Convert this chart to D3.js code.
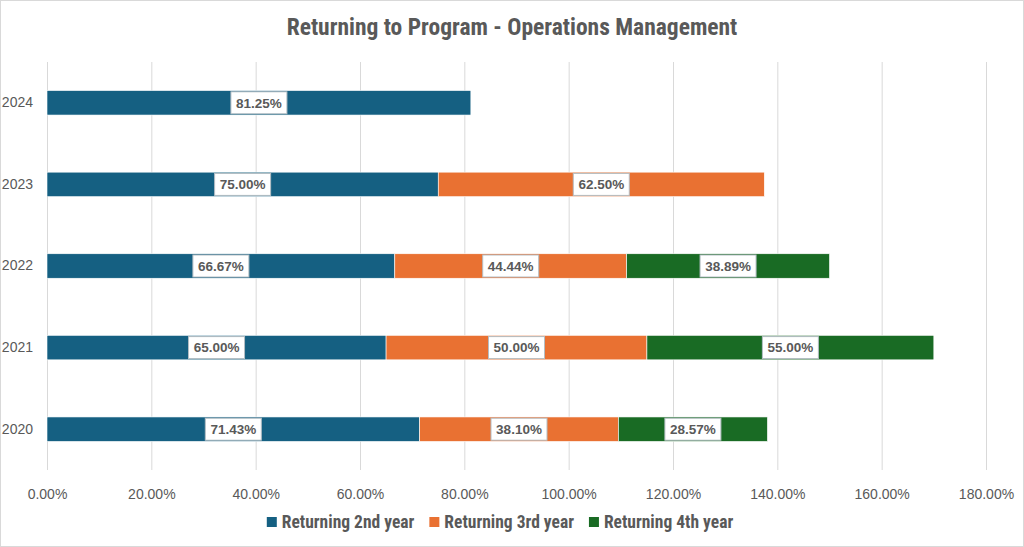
<!DOCTYPE html>
<html><head><meta charset="utf-8">
<script src="https://cdn.jsdelivr.net/npm/d3@7"></script>
<style>body{margin:0;background:#fff}svg{display:block}</style>
</head><body>
<script>
const years = ["2024","2023","2022","2021","2020"];
const seriesNames = ["Returning 2nd year","Returning 3rd year","Returning 4th year"];
const second = [81.25, 75.00, 66.67, 65.00, 71.43];
const third  = [null, 62.50, 44.44, 50.00, 38.10];
const fourth = [null, null, 38.89, 55.00, 28.57];
const xTicks = [0,20,40,60,80,100,120,140,160,180];
const colors = ["#156082","#E97132","#196B24"];

const W=1024,H=547;
const svg=d3.select("body").append("svg").attr("width",W).attr("height",H);
svg.append("rect").attr("x",0.5).attr("y",0.5).attr("width",W-1).attr("height",H-1)
  .attr("fill","#fff").attr("stroke","#d9d9d9");
const narrow='"Liberation Sans Narrow","Roboto Condensed","Liberation Sans",sans-serif';
svg.append("text").attr("x",512).attr("y",35).attr("text-anchor","middle")
  .attr("font-family",narrow).attr("font-weight","bold").attr("font-size",23.5)
  .attr("fill","#595959").text("Returning to Program - Operations Management");

const x=d3.scaleLinear().domain([0,180]).range([47,986]);
const y=d3.scaleBand().domain(years).range([62,470]).paddingInner(0.7).paddingOuter(0.35);

// gridlines
svg.append("g").selectAll("line").data(xTicks).join("line")
  .attr("x1",d=>x(d)+0.5).attr("x2",d=>x(d)+0.5).attr("y1",62).attr("y2",470)
  .attr("stroke","#d9d9d9").attr("stroke-width",1);

const xAxis=svg.append("g").attr("transform","translate(0,470)")
  .call(d3.axisBottom(x).tickValues(xTicks).tickSize(0).tickPadding(19).tickFormat(d=>d.toFixed(2)+"%"));
xAxis.select(".domain").remove();
xAxis.selectAll("text").attr("font-family",'"Liberation Sans",Arial,sans-serif').attr("font-size",14).attr("fill","#595959");

const yAxis=svg.append("g").attr("transform","translate(33,0)")
  .call(d3.axisLeft(y).tickSize(0).tickPadding(0));
yAxis.select(".domain").remove();
yAxis.selectAll("text").attr("font-family",'"Liberation Sans",Arial,sans-serif').attr("font-size",14).attr("fill","#595959");

const seriesVals=[second,third,fourth];
const rows=years.map((yr,i)=>{let acc=0;return seriesVals.map((s,k)=>{const v=s[i];const seg={yr,k,v,x0:acc,x1:acc+(v||0)};acc+=v||0;return seg;}).filter(d=>d.v!=null);});
const segs=rows.flat();

svg.append("g").selectAll("rect").data(segs).join("rect")
  .attr("x",d=>x(d.x0)).attr("width",d=>x(d.x1)-x(d.x0))
  .attr("y",d=>y(d.yr)).attr("height",y.bandwidth())
  .attr("fill",d=>colors[d.k]).attr("stroke","#fff").attr("stroke-width",0.6);

const lab=svg.append("g").selectAll("g").data(segs).join("g")
  .attr("transform",d=>`translate(${(x(d.x0)+x(d.x1))/2},${y(d.yr)+y.bandwidth()/2})`);
lab.append("rect").attr("x",-28).attr("y",-11).attr("width",56).attr("height",22)
  .attr("fill","#fff").attr("stroke","#b4bec4").attr("stroke-width",1);
lab.append("text").attr("text-anchor","middle").attr("dy","0.36em")
  .attr("font-family",'"Liberation Sans",Arial,sans-serif').attr("font-weight","bold").attr("font-size",13.5)
  .attr("fill","#595959").text(d=>d.v.toFixed(2)+"%");

// legend
const leg=svg.append("g");
const items=[];
let lx=0;
const fs=17.5;
const tmp=svg.append("text").attr("font-family",narrow).attr("font-weight","bold").attr("font-size",fs);
seriesNames.forEach((n,i)=>{tmp.text(n);const w=tmp.node().getComputedTextLength();items.push({n,i,x:lx});lx+=15+w+15;});
tmp.remove();
const total=lx-15;
const start=500-total/2;
const li=leg.selectAll("g").data(items).join("g").attr("transform",d=>`translate(${start+d.x},522)`);
li.append("rect").attr("x",0).attr("y",-5).attr("width",10).attr("height",10).attr("fill",d=>colors[d.i]);
li.append("text").attr("x",15).attr("dy","0.35em").attr("font-family",narrow).attr("font-weight","bold")
  .attr("font-size",fs).attr("fill","#595959").text(d=>d.n);
</script>
</body></html>
